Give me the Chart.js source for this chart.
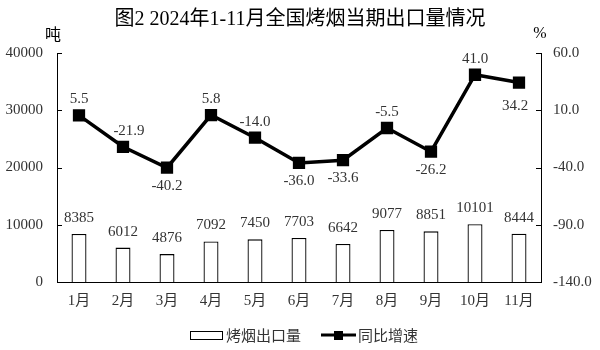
<!DOCTYPE html>
<html>
<head>
<meta charset="utf-8">
<script src="https://cdn.jsdelivr.net/npm/chart.js@4"></script>
<style>
  body { margin: 0; background: #fff; }
  #wrap { width: 600px; height: 350px; }
</style>
</head>
<body>
<div id="wrap"><canvas id="exportChart"></canvas></div>
<script>
// 图2 全国烤烟当期出口量
const months = ["1月", "2月", "3月", "4月", "5月", "6月", "7月", "8月", "9月", "10月", "11月"];
const exportTons = [8385, 6012, 4876, 7092, 7450, 7703, 6642, 9077, 8851, 10101, 8444];
const yoyGrowth = [5.5, -21.9, -40.2, 5.8, -14.0, -36.0, -33.6, -5.5, -26.2, 41.0, 34.2];
const leftTicks = [0, 10000, 20000, 30000, 40000];
const rightTicks = [-140, -90, -40, 10, 60];

const FONT = "'Liberation Serif', 'Noto Sans CJK SC', serif";
const CJK = "'Noto Sans CJK SC', sans-serif";
const TXT = "#333";

// label above (1) or below (-1) each point
const lineLabelSide = [1, 1, -1, 1, 1, -1, -1, 1, -1, 1, -1];

const decorPlugin = {
  id: "decor",
  afterDatasetsDraw(chart) {
    const ctx = chart.ctx;
    const area = chart.chartArea;
    const yL = chart.scales.y;
    const yR = chart.scales.y1;
    ctx.save();

    // inward ticks
    ctx.strokeStyle = "#000";
    ctx.lineWidth = 1;
    leftTicks.forEach(function (v) {
      const y = Math.round(yL.getPixelForValue(v)) + 0.5;
      ctx.beginPath();
      ctx.moveTo(area.left, y);
      ctx.lineTo(area.left + 5, y);
      ctx.stroke();
    });
    rightTicks.forEach(function (v) {
      const y = Math.round(yR.getPixelForValue(v)) + 0.5;
      ctx.beginPath();
      ctx.moveTo(area.right, y);
      ctx.lineTo(area.right - 5, y);
      ctx.stroke();
    });

    ctx.fillStyle = TXT;
    ctx.font = "15px " + FONT;
    ctx.textAlign = "center";
    ctx.textBaseline = "middle";

    // bar labels
    chart.getDatasetMeta(1).data.forEach(function (bar, i) {
      ctx.fillText(String(exportTons[i]), bar.x, bar.y - 16);
    });

    // line labels
    chart.getDatasetMeta(0).data.forEach(function (pt, i) {
      const above = lineLabelSide[i] > 0;
      let dx = 0;
      if (i === 1) dx = 6;
      if (i === 10) dx = -4;
      const dy = above ? -16 : (i === 10 ? 24 : 18);
      ctx.fillText(yoyGrowth[i].toFixed(1), pt.x + dx, pt.y + dy);
    });

    // title + units
    ctx.fillStyle = "#000";
    ctx.font = "20px " + FONT;
    ctx.fillText("图2 2024年1-11月全国烤烟当期出口量情况", 300, 20);
    ctx.font = "16px " + CJK;
    ctx.fillText("吨", 53, 34);
    ctx.font = "16px " + FONT;
    ctx.fillText("%", 540, 34);

    // legend
    ctx.strokeStyle = "#000";
    ctx.fillStyle = "#fff";
    ctx.fillRect(190.5, 331.5, 32, 8);
    ctx.strokeRect(190.5, 331.5, 32, 8);
    ctx.fillStyle = TXT;
    ctx.font = "15px " + CJK;
    ctx.textAlign = "left";
    ctx.fillText("烤烟出口量", 226, 335);
    ctx.strokeStyle = "#000";
    ctx.lineWidth = 3;
    ctx.beginPath();
    ctx.moveTo(321, 335);
    ctx.lineTo(356, 335);
    ctx.stroke();
    ctx.fillStyle = "#000";
    ctx.fillRect(334, 331, 9, 9);
    ctx.fillStyle = TXT;
    ctx.fillText("同比增速", 358, 335);

    ctx.restore();
  },
};

const exportCtx = document.getElementById("exportChart").getContext("2d");
new Chart(exportCtx, {
  type: "bar",
  data: {
    labels: months,
    datasets: [
      {
        type: "line",
        label: "同比增速",
        data: yoyGrowth,
        yAxisID: "y1",
        borderColor: "#000",
        backgroundColor: "#000",
        borderWidth: 3.5,
        pointStyle: "rect",
        pointRadius: 6.2,
        pointHoverRadius: 6.2,
        tension: 0,
        order: 0,
      },
      {
        label: "烤烟出口量",
        data: exportTons,
        yAxisID: "y",
        backgroundColor: "#fff",
        borderColor: "#000",
        borderWidth: 1.3,
        categoryPercentage: 1,
        barPercentage: 0.34,
        order: 1,
      },
    ],
  },
  options: {
    responsive: true,
    maintainAspectRatio: false,
    animation: false,
    events: [],
    layout: { padding: { top: 53, bottom: 38, left: 0, right: 0 } },
    plugins: {
      legend: { display: false },
      tooltip: { enabled: false },
      title: { display: false },
    },
    scales: {
      x: {
        grid: { display: false, drawTicks: false },
        border: { display: true, color: "#000", width: 1 },
        ticks: { color: TXT, font: { size: 15, family: FONT }, padding: 10, maxRotation: 0 },
        afterFit: function (s) { s.height = 30; },
      },
      y: {
        position: "left",
        min: 0,
        max: 40000,
        grid: { display: false, drawTicks: false },
        border: { display: true, color: "#000", width: 1 },
        ticks: {
          stepSize: 10000,
          color: TXT,
          font: { size: 15, family: FONT },
          padding: 14,
          callback: function (v) { return String(v); },
        },
        afterFit: function (s) { s.width = 57; },
      },
      y1: {
        position: "right",
        min: -140,
        max: 60,
        grid: { display: false, drawTicks: false },
        border: { display: true, color: "#000", width: 1 },
        ticks: {
          stepSize: 50,
          color: TXT,
          font: { size: 15, family: FONT },
          padding: 12,
          callback: function (v) { return Number(v).toFixed(1); },
        },
        afterFit: function (s) { s.width = 59; },
      },
    },
  },
  plugins: [decorPlugin],
});
</script>
</body>
</html>
